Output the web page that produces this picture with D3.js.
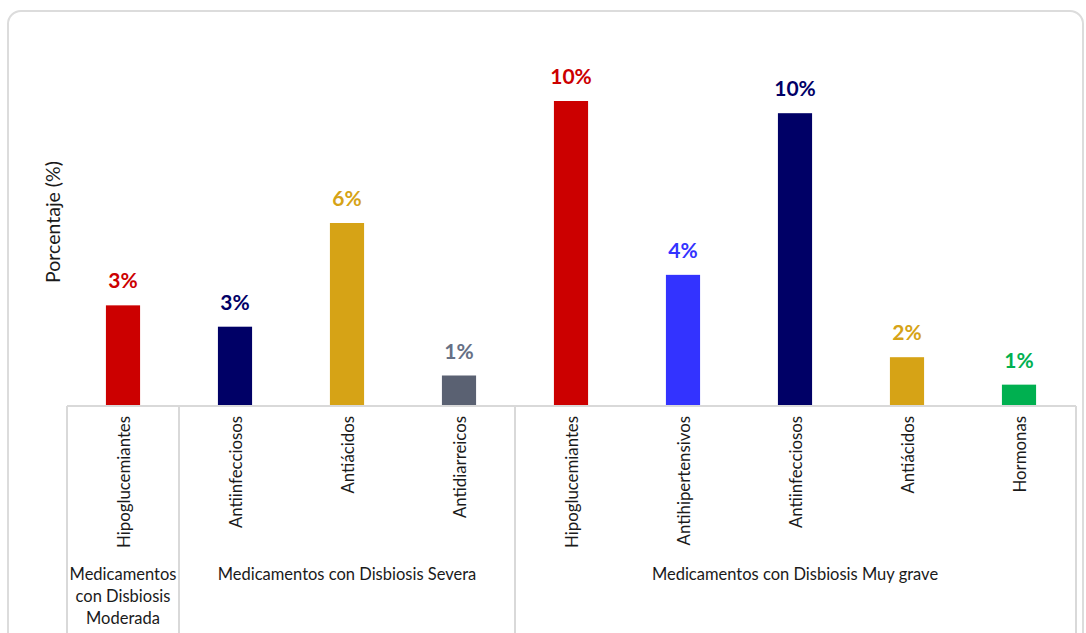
<!DOCTYPE html>
<html>
<head>
<meta charset="utf-8">
<script src="https://cdn.jsdelivr.net/npm/d3@7"></script>
<style>
  html, body { margin: 0; padding: 0; background: #ffffff; }
  svg { display: block; }
</style>
</head>
<body>
<svg id="chart" width="1086" height="633"></svg>
<script>
// Drug classes (x categories), their disbiosis group, percentages and colours
const categories = ["Hipoglucemiantes", "Antiinfecciosos", "Antiácidos", "Antidiarreicos",
                    "Hipoglucemiantes", "Antihipertensivos", "Antiinfecciosos", "Antiácidos", "Hormonas"];
const groupOf    = [0, 1, 1, 1, 2, 2, 2, 2, 2];
const groups     = [["Medicamentos", "con Disbiosis", "Moderada"],
                    ["Medicamentos con Disbiosis Severa"],
                    ["Medicamentos con Disbiosis Muy grave"]];
const values     = [3.3, 2.6, 6.0, 1.0, 10.0, 4.3, 9.6, 1.6, 0.7];
const barColors  = ["#CC0000", "#000066", "#D6A316", "#5A6172", "#CC0000", "#3333FF", "#000066", "#D6A316", "#00B050"];
const yTitle     = "Porcentaje (%)";

const svg = d3.select("#chart");
const font = "Lato, 'Open Sans', sans-serif";
const gridColor = "#d9d9d9";

// Card frame
svg.append("rect")
  .attr("x", 8).attr("y", 11)
  .attr("width", 1075).attr("height", 700)
  .attr("rx", 13).attr("ry", 13)
  .attr("fill", "#fff")
  .attr("stroke", "#dcdcdc").attr("stroke-width", 2);

const left = 67, right = 1075, base = 406;
const x = d3.scaleBand().domain(d3.range(categories.length)).range([left, right]).paddingInner(0.695).paddingOuter(0.3475);
const y = d3.scaleLinear().domain([0, 12]).range([base, base - 366]);

// Bars
svg.selectAll("rect.bar").data(values).join("rect")
  .attr("class", "bar")
  .attr("x", (d, i) => x(i))
  .attr("width", x.bandwidth())
  .attr("y", d => y(d))
  .attr("height", d => y(0) - y(d))
  .attr("fill", (d, i) => barColors[i]);

// Value labels
const fmt = d => d3.format(".0f")(d) + "%";
svg.selectAll("text.val").data(values).join("text")
  .attr("class", "val")
  .attr("x", (d, i) => x(i) + x.bandwidth() / 2)
  .attr("y", d => y(d) - 17)
  .attr("text-anchor", "middle")
  .attr("font-family", font).attr("font-weight", "bold").attr("font-size", 21)
  .attr("fill", (d, i) => i === 3 ? "#667085" : barColors[i])
  .text(fmt);

// Category axis line and group separators
const step = x.step();
const xs = i => left + i * step;
svg.append("line")
  .attr("x1", left).attr("x2", right + 1).attr("y1", base).attr("y2", base)
  .attr("stroke", gridColor).attr("stroke-width", 2);

const groupStarts = [0, 1, 4, 9];
svg.selectAll("line.sep").data(groupStarts).join("line")
  .attr("class", "sep")
  .attr("x1", d => xs(d) + (d === 9 ? 1 : 0)).attr("x2", d => xs(d) + (d === 9 ? 1 : 0))
  .attr("y1", base).attr("y2", 640)
  .attr("stroke", gridColor).attr("stroke-width", 2);

// Rotated category labels
svg.selectAll("text.cat").data(categories).join("text")
  .attr("class", "cat")
  .attr("transform", (d, i) => `translate(${x(i) + x.bandwidth() / 2},416) rotate(-90)`)
  .attr("text-anchor", "end")
  .attr("dominant-baseline", "central")
  .attr("font-family", font).attr("font-size", 16.8)
  .attr("fill", "#1a1a1a")
  .text(d => d);

// Group labels
groups.forEach((lines, g) => {
  const cx = (xs(groupStarts[g]) + xs(groupStarts[g + 1])) / 2;
  const t = svg.append("text")
    .attr("text-anchor", "middle")
    .attr("font-family", font).attr("font-size", 16.5)
    .attr("fill", "#1a1a1a");
  lines.forEach((ln, k) => {
    t.append("tspan").attr("x", cx).attr("y", 580 + k * 22).text(ln);
  });
});

// Y-axis title
svg.append("text")
  .attr("transform", "translate(52,222) rotate(-90)")
  .attr("text-anchor", "middle")
  .attr("dominant-baseline", "central")
  .attr("font-family", font).attr("font-size", 19.5)
  .attr("fill", "#1a1a1a")
  .text(yTitle);
</script>
</body>
</html>
